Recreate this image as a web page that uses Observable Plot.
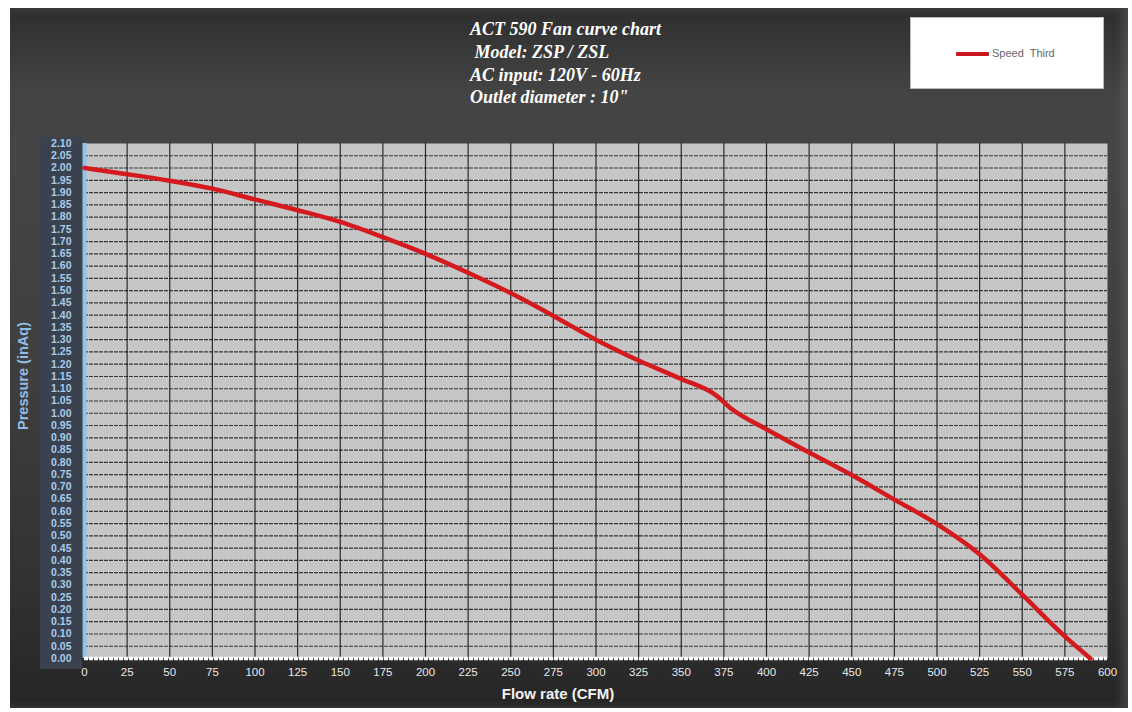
<!DOCTYPE html>
<html><head><meta charset="utf-8">
<script src="https://cdn.jsdelivr.net/npm/d3@7"></script>
<script src="https://cdn.jsdelivr.net/npm/@observablehq/plot@0.6"></script>
<style>
body{margin:0;background:#fff;width:1132px;height:712px;overflow:hidden;position:relative;font-family:Arial,"Liberation Sans",sans-serif}
#frame{position:absolute;left:10px;top:8px;width:1118px;height:700px;
 background:linear-gradient(180deg,#2e2e2e 0%,#444 12%,#454545 22%,#3f3f3f 50%,#333 80%,#262626 100%);
 box-shadow:inset -6px 0 8px rgba(120,120,120,0.35);}
#band{position:absolute;left:30px;top:129px;width:42px;height:532px;background:#3a4250}
#title{position:absolute;left:460px;top:10px;color:#fff;font-family:"Liberation Serif","Times New Roman",serif;font-style:italic;font-weight:bold;font-size:18px;line-height:21.8px;white-space:pre;transform:scaleY(1.05);transform-origin:top left}
#legend{position:absolute;left:900px;top:9px;width:194px;height:72px;background:#fff;border:1px solid #bbb;box-sizing:border-box}
#legend .sw{position:absolute;left:45px;top:34px;width:33px;height:4px;background:#c8141c;border-radius:1px}
#legend .tx{position:absolute;left:81px;top:29px;font-size:11px;color:#666;word-spacing:3px}
#ylab{position:absolute;left:13px;top:368px;transform:translate(-50%,-50%) rotate(-90deg);transform-origin:center;color:#8fbde8;font-weight:bold;font-size:14.5px;white-space:nowrap}
#xlab{position:absolute;left:548px;top:677px;transform:translateX(-50%);color:#f2f2f2;font-weight:bold;font-size:15px;white-space:nowrap}
#chart{position:absolute;left:0;top:0}
#chart svg{background:transparent!important}
#chart g[aria-label="y-axis tick label"] text{fill:#a9cbea;font-weight:bold}
#chart g[aria-label="x-axis tick label"] text{fill:#e8e8e8}
</style></head>
<body>
<div id="frame">
 <div id="band"></div>
 <div id="title">ACT 590 Fan curve chart
 Model: ZSP / ZSL
AC input: 120V - 60Hz
Outlet diameter : 10"</div>
 <div id="legend"><div class="sw"></div><div class="tx">Speed Third</div></div>
 <div id="ylab">Pressure (inAq)</div>
 <div id="xlab">Flow rate (CFM)</div>
 <div id="chart"></div>
</div>
<script>
const flow = [0,25,50,75,100,125,150,175,200,225,250,275,300,325,350,370,380,400,425,450,475,500,525,550,575,590];
const pressure = [2.00,1.975,1.948,1.916,1.872,1.828,1.78,1.718,1.65,1.573,1.49,1.397,1.30,1.215,1.14,1.075,1.015,0.935,0.84,0.748,0.648,0.548,0.425,0.26,0.09,0.0];
const xTicks = [0,25,50,75,100,125,150,175,200,225,250,275,300,325,350,375,400,425,450,475,500,525,550,575,600];
const yTicks = [0,0.05,0.10,0.15,0.20,0.25,0.30,0.35,0.40,0.45,0.50,0.55,0.60,0.65,0.70,0.75,0.80,0.85,0.90,0.95,1.00,1.05,1.10,1.15,1.20,1.25,1.30,1.35,1.40,1.45,1.50,1.55,1.60,1.65,1.70,1.75,1.80,1.85,1.90,1.95,2.00,2.05,2.10];
const seriesName = "Speed Third";

const data = flow.map((f,i)=>({flow:f, pressure:pressure[i], series:seriesName}));

const chart = Plot.plot({
  width:1118, height:700,
  marginLeft:74, marginRight:21, marginTop:135, marginBottom:50,
  style:{background:"transparent", fontFamily:"Arial, 'Liberation Sans', sans-serif"},
  x:{domain:[0,600]},
  y:{domain:[0,2.10]},
  marks:[
    Plot.frame({fill:"#c6c6c6", stroke:null}),
    Plot.gridX(xTicks.slice(1,-1), {stroke:"#111", strokeOpacity:0.85, strokeWidth:1.2}),
    Plot.gridY(yTicks.slice(1,-1), {stroke:"#111", strokeOpacity:0.8, strokeWidth:1.2, strokeDasharray:"4,1"}),
    Plot.axisX(xTicks, {tickSize:0, tickPadding:9, fontSize:11.5, label:null, fill:"#e8e8e8"}),
    Plot.axisY(yTicks, {tickSize:0, tickPadding:13, fontSize:10.5, label:null, fill:"#a9cbea", tickFormat:d=>d.toFixed(2)}),
    Plot.ruleX([0], {stroke:"#8ec3ee", strokeWidth:4}),
    Plot.ruleY([0], {stroke:"#ffffff", strokeWidth:3.5, strokeDasharray:"4,1"}),
    Plot.line(data, {x:"flow", y:"pressure", stroke:"#d41a1f", strokeWidth:4.5, curve:"monotone-x"})
  ]
});
document.getElementById("chart").appendChild(chart);
</script>
</body></html>
